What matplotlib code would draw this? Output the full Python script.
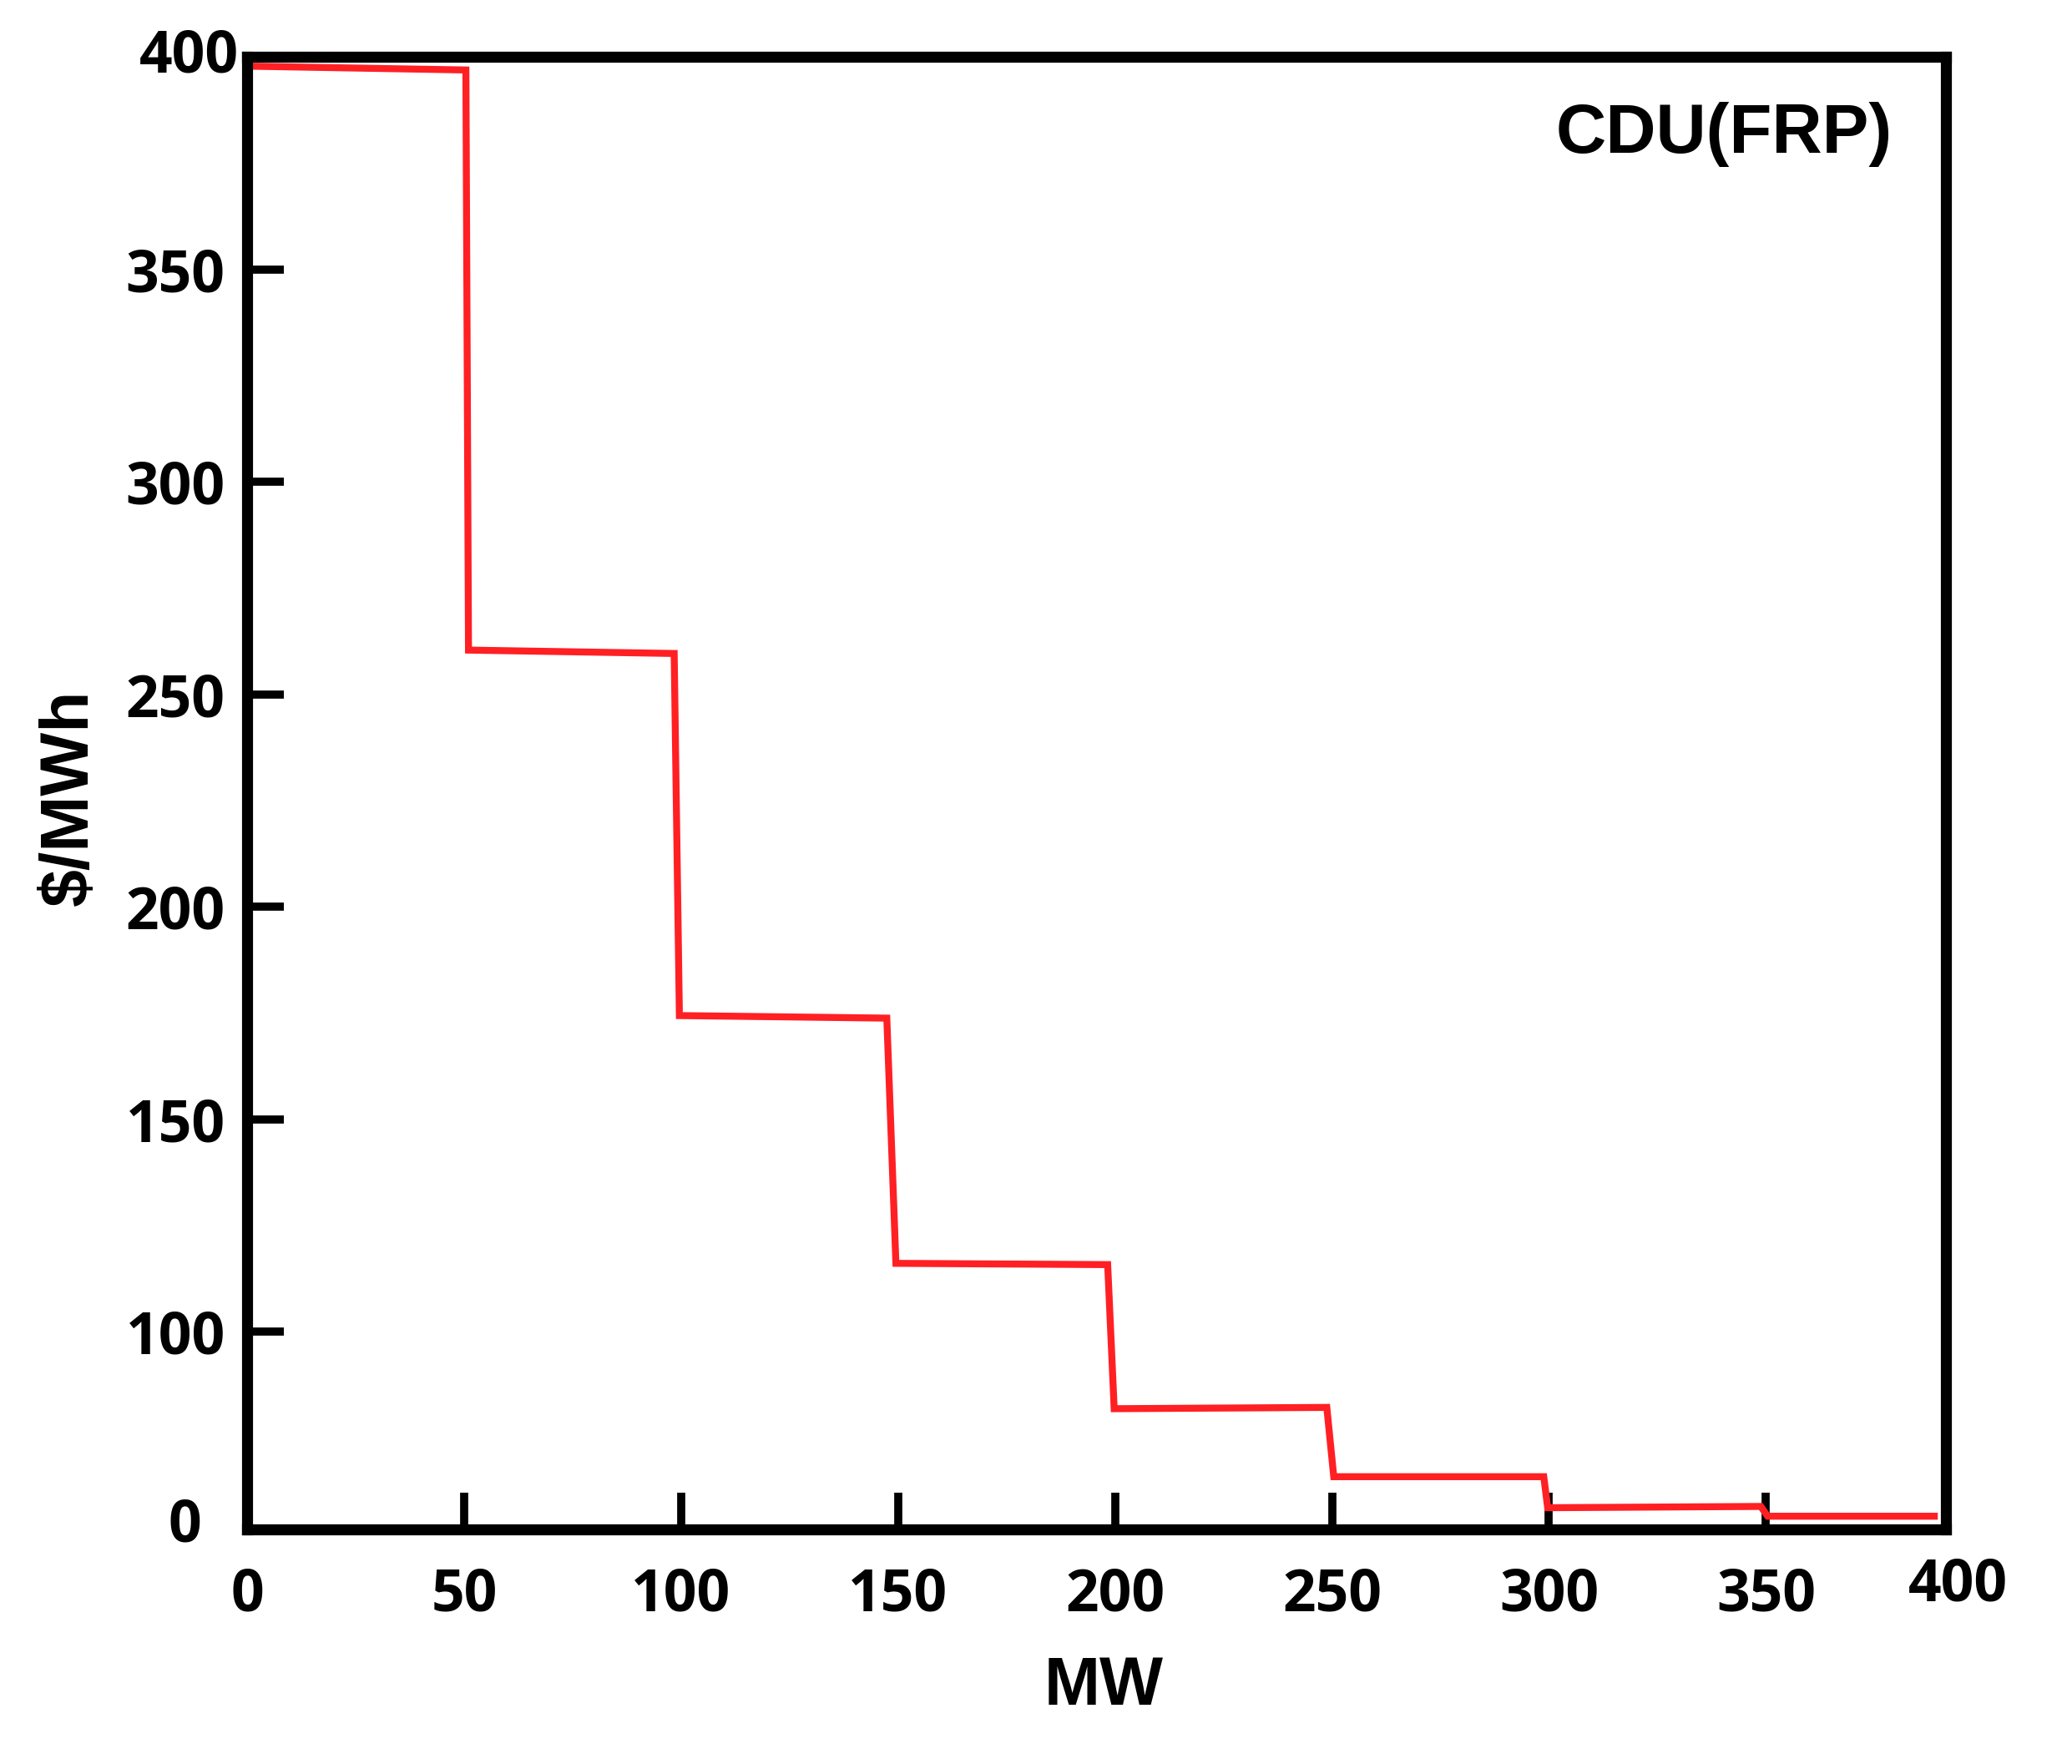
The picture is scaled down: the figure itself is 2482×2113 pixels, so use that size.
import matplotlib.pyplot as plt

# offer curve (MW, $/MWh)
mw = [0, 50.4, 51.0, 98.4, 99.6, 147.4, 149.5, 198.3, 199.8, 248.8, 250.4, 298.8, 299.7, 348.8, 350.4, 389.6]
price = [397.8, 396.9, 260.4, 259.6, 174.4, 173.8, 116.1, 115.8, 81.9, 82.2, 65.9, 65.9, 58.6, 58.9, 56.6, 56.6]

x_ticks = [50, 100, 150, 200, 250, 300, 350]
y_ticks = [100, 150, 200, 250, 300, 350]

tick_font = dict(family='Open Sans', weight='bold', size=50)
label_font = dict(family='Liberation Sans', weight='bold', size=58)

fig = plt.figure(figsize=(24.82, 21.13), dpi=100)
ax = fig.add_axes([0.1193, 0.1330, 0.8199, 0.8348])

ax.plot(mw, price, color='#ff2024', lw=6,
        solid_joinstyle='miter', solid_capstyle='butt')

ax.set_xlim(0, 391.5)
ax.set_ylim(53.5, 400)

for s in ax.spines.values():
    s.set_linewidth(9.5)
    s.set_color('black')

ax.set_xticks(x_ticks)
ax.set_xticklabels([str(v) for v in x_ticks], fontdict=tick_font)
ax.set_xticks([0], minor=True)
ax.set_xticklabels(['0'], minor=True, fontdict=tick_font)
ax.set_yticks(y_ticks)
ax.set_yticklabels([str(v) for v in y_ticks], fontdict=tick_font)
ax.set_yticks([], minor=True)

ax.tick_params(which='major', direction='in', length=32, width=7,
               top=False, right=False)
ax.tick_params(axis='x', which='both', pad=32)
ax.tick_params(axis='y', which='major', pad=19)
ax.tick_params(axis='x', which='minor', length=0)

# corner labels that sit off the regular tick positions
ax.text(-0.005, 1.0, '400', transform=ax.transAxes, ha='right', va='center',
        fontdict=tick_font)
ax.text(-0.027, 0.002, '0', transform=ax.transAxes, ha='right', va='center',
        fontdict=tick_font)
ax.text(1.0069, -0.0385, '400', transform=ax.transAxes, ha='center', va='center',
        fontdict=tick_font)

ax.set_xlabel('MW', fontdict=label_font)
ax.set_ylabel('$/MWh', fontdict=label_font)
ax.xaxis.set_label_coords(0.504, -0.0856)
ax.yaxis.set_label_coords(-0.0855, 0.497)

ax.text(0.9686, 0.9348, 'CDU(FRP)', transform=ax.transAxes, ha='right',
        va='baseline', family='Liberation Sans', weight='bold', size=60)

fig.savefig('out.png', dpi=100)
